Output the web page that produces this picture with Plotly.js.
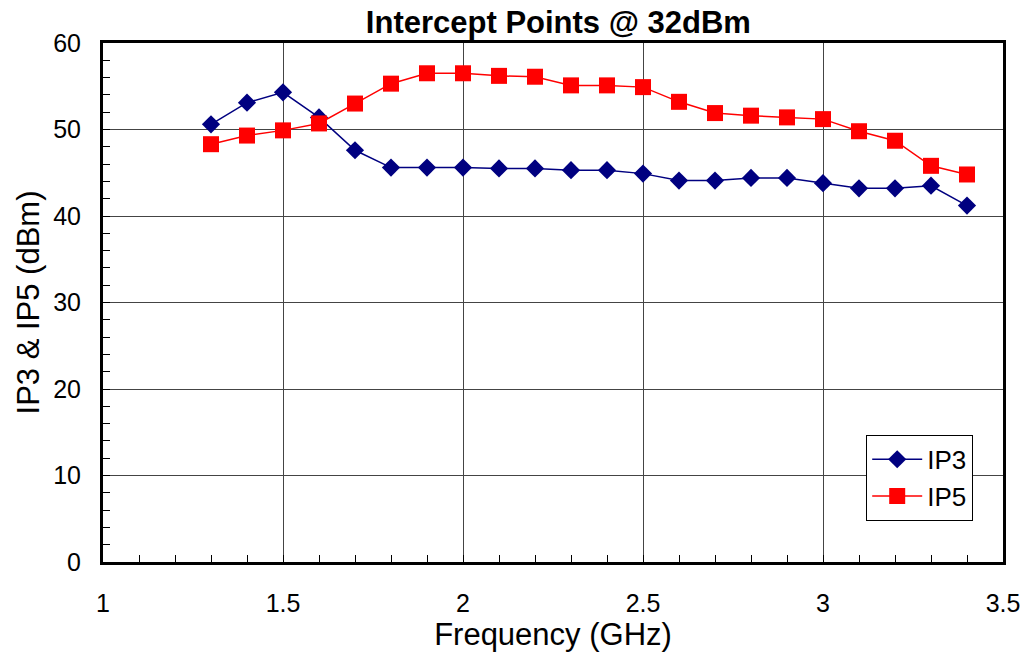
<!DOCTYPE html>
<html>
<head>
<meta charset="utf-8">
<script src="https://cdn.plot.ly/plotly-3.0.1.min.js"></script>
<style>html,body{margin:0;padding:0;background:#fff;}#chart{width:1026px;height:654px;}</style>
</head>
<body>
<div id="chart"></div>
<script>
const frequency = [1.3,1.4,1.5,1.6,1.7,1.8,1.9,2.0,2.1,2.2,2.3,2.4,2.5,2.6,2.7,2.8,2.9,3.0,3.1,3.2,3.3,3.4];
const ip3 = [50.6,53.1,54.3,51.4,47.6,45.6,45.6,45.6,45.5,45.5,45.3,45.3,44.9,44.1,44.1,44.4,44.4,43.8,43.2,43.2,43.5,41.2];
const ip5 = [48.3,49.3,49.9,50.7,53.0,55.3,56.5,56.5,56.2,56.1,55.1,55.1,54.9,53.2,51.9,51.6,51.4,51.2,49.8,48.7,45.8,44.8];
const titleText = 'Intercept Points @ 32dBm';
const xTitle = 'Frequency (GHz)';
const yTitle = 'IP3 &amp; IP5 (dBm)';

const font = 'Liberation Sans, Arial, sans-serif';
const traces = [
  {x: frequency, y: ip3, name: 'IP3', type: 'scatter', mode: 'lines+markers',
   line: {color: '#000080', width: 1.5},
   marker: {symbol: 'diamond', size: 14, color: '#000080'}},
  {x: frequency, y: ip5, name: 'IP5', type: 'scatter', mode: 'lines+markers',
   line: {color: '#FF0000', width: 1.5},
   marker: {symbol: 'square', size: 16, color: '#FF0000'}}
];
const layout = {
  width: 1026, height: 654,
  margin: {l: 103, r: 23, t: 43, b: 92},
  paper_bgcolor: '#fff', plot_bgcolor: '#fff',
  font: {family: font, color: '#000', size: 25},
  title: {text: '<b>' + titleText + '</b>', font: {family: font, size: 31, color: '#000'},
          x: 0.506, xref: 'paper', xanchor: 'center', y: 0.966, yanchor: 'middle'},
  showlegend: true,
  legend: {x: 0.848, y: 0.245, xanchor: 'left', yanchor: 'top',
           bgcolor: '#fff', bordercolor: '#000', borderwidth: 1, itemwidth: 50,
           font: {family: font, size: 26}},
  xaxis: {
    range: [1, 3.5], dtick: 0.5, tick0: 1,
    showline: true, mirror: true, linecolor: '#000', linewidth: 3,
    showgrid: true, gridcolor: '#444', gridwidth: 1,
    ticks: 'inside', ticklen: 7, tickcolor: '#000',
    ticklabelstandoff: 17,
    minor: {dtick: 0.1, ticks: 'inside', ticklen: 7, tickcolor: '#000', showgrid: false},
    zeroline: false,
    tickfont: {size: 25},
    title: {text: xTitle, font: {size: 31}, standoff: 0}
  },
  yaxis: {
    range: [0, 60], dtick: 10,
    showline: true, mirror: true, linecolor: '#000', linewidth: 3,
    showgrid: true, gridcolor: '#444', gridwidth: 1,
    ticks: 'inside', ticklen: 7, tickcolor: '#000',
    ticklabelstandoff: 14,
    minor: {dtick: 2, ticks: 'inside', ticklen: 7, tickcolor: '#000', showgrid: false},
    zeroline: false,
    tickfont: {size: 25},
    title: {text: yTitle, font: {size: 31}, standoff: 5}
  }
};
Plotly.newPlot('chart', traces, layout, {displayModeBar: false, staticPlot: true});
</script>
</body>
</html>
